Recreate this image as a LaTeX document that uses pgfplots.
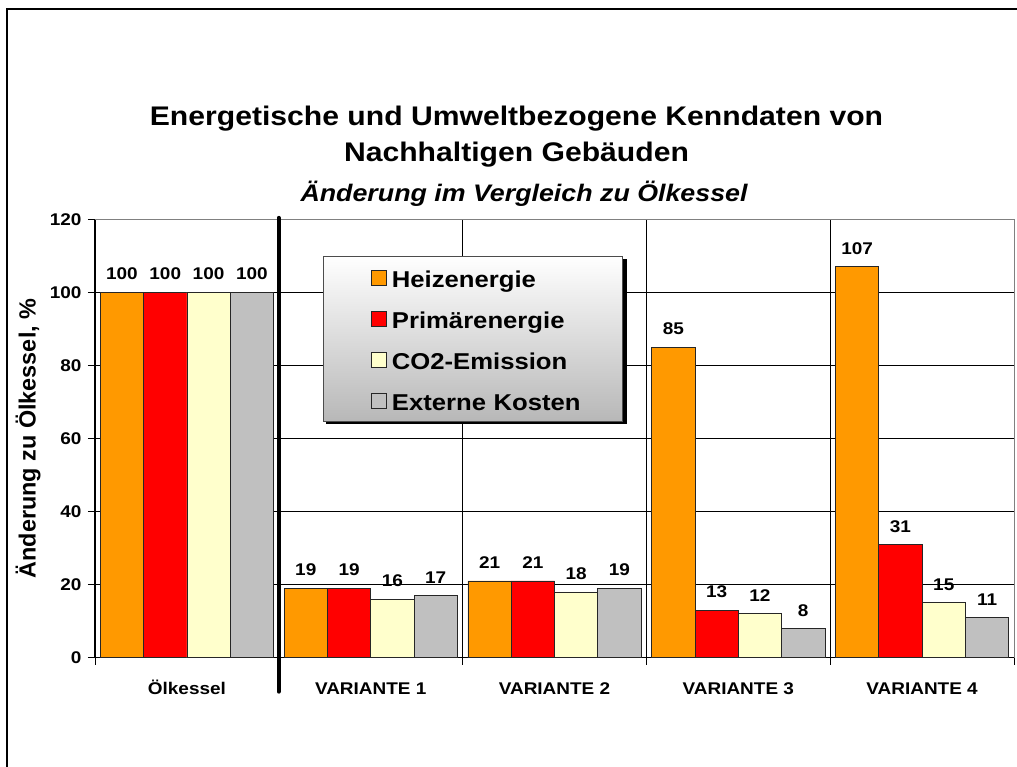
\documentclass[border=0pt]{standalone}
\usepackage{pgfplots}
\pgfplotsset{compat=1.18}
\usepackage{fontspec}
\setmainfont{Liberation Sans}[FakeStretch=1.12]
\newfontfamily\plainsans{Liberation Sans}
\definecolor{cHeiz}{RGB}{255,153,0}
\definecolor{cPrim}{RGB}{255,0,0}
\definecolor{cCO}{RGB}{255,255,204}
\definecolor{cExt}{RGB}{192,192,192}

\begin{document}
\begin{tikzpicture}[x=1bp,y=1bp]
% outer frame (right and bottom edges fall outside the page)
\draw[line width=2.5bp] (7,-20) -- (7,758) -- (1040,758);

\node[font=\bfseries\fontsize{27}{27}\selectfont, anchor=base] at (516.5,641) {Energetische und Umweltbezogene Kenndaten von};
\node[font=\bfseries\fontsize{27}{27}\selectfont, anchor=base] at (516.5,605) {Nachhaltigen Gebäuden};
\node[font=\bfseries\itshape\fontsize{24}{24}\selectfont, anchor=base] at (524,565) {Änderung im Vergleich zu Ölkessel};

\node[rotate=90, font=\plainsans\bfseries\fontsize{23.5}{23.5}\selectfont] at (28,328.5) {Änderung zu Ölkessel, \%};

\begin{axis}[
  at={(95bp,109.3bp)}, anchor=south west,
  width=919bp, height=438.4bp, scale only axis,
  xmin=-0.5, xmax=4.5, ymin=0, ymax=120,
  axis x line*=bottom, axis y line*=left,
  axis line style={black, line width=1.2bp},
  ybar=0pt, bar width=43.3bp,
  xtick={0,...,4},
  xticklabels={Ölkessel,VARIANTE 1,VARIANTE 2,VARIANTE 3,VARIANTE 4},
  tick style={black, line width=0.8bp},
  major x tick style={draw=none},
  minor xtick={-0.5,0.5,...,4.5},
  xminorgrids, minor x grid style={black, line width=0.8bp},
  ytick={0,20,...,120},
  ymajorgrids, major y grid style={black, line width=0.8bp},
  tick align=outside, major tick length=7bp, minor tick length=7bp,
  /pgf/number format/assume math mode=true,
  ticklabel style={font=\bfseries\fontsize{17}{17}\selectfont},
  xticklabel style={text height=12.5bp, text depth=0bp, yshift=-14bp},
  yticklabel style={xshift=-3bp},
  clip=false,
  nodes near coords,
  every node near coord/.append style={font=\bfseries\fontsize{17}{17}\selectfont, yshift=8.5bp, black},
  legend style={
    at={(axis description cs:0.2478,0.917)}, anchor=north west,
    draw=black!70, line width=0.8bp,
    top color=white, bottom color=black!28,
    font=\bfseries\fontsize{23}{23}\selectfont,
    inner xsep=40bp, inner ysep=9bp,
    row sep=17bp,
    nodes={inner xsep=5bp, inner ysep=0bp, text height=22bp, text depth=2bp, text width=185bp, align=left},
  },
  legend cell align=left,
  legend image code/.code={\path (0bp,0bp);\draw[#1,draw=black!85,line width=0.8bp] (8bp,-8bp) rectangle (23bp,7bp);},
]
\addplot[fill=cHeiz, draw=black!85, line width=0.8bp] coordinates {(0,100) (1,19) (2,21) (3,85) (4,107)};
\addlegendentry{Heizenergie}
\addplot[fill=cPrim, draw=black!85, line width=0.8bp] coordinates {(0,100) (1,19) (2,21) (3,13) (4,31)};
\addlegendentry{Primärenergie}
\addplot[fill=cCO, draw=black!85, line width=0.8bp] coordinates {(0,100) (1,16) (2,18) (3,12) (4,15)};
\addlegendentry{CO2-Emission}
\addplot[fill=cExt, draw=black!85, line width=0.8bp] coordinates {(0,100) (1,17) (2,19) (3,8) (4,11)};
\addlegendentry{Externe~Kosten}
\draw[black!50, line width=1bp] (axis cs:-0.5,120) -- (axis cs:4.5,120) -- (axis cs:4.5,0);
\draw[line width=4bp, line cap=round] (axis cs:0.5,120.4) -- (axis cs:0.5,-9.3);
% legend shadow
\fill[black] (axis description cs:0.2510,0.5338) rectangle (axis description cs:0.5789,0.9101);
\end{axis}
\pgfresetboundingbox
\path[use as bounding box] (0,0) rectangle (1017,767);
\end{tikzpicture}
\end{document}
